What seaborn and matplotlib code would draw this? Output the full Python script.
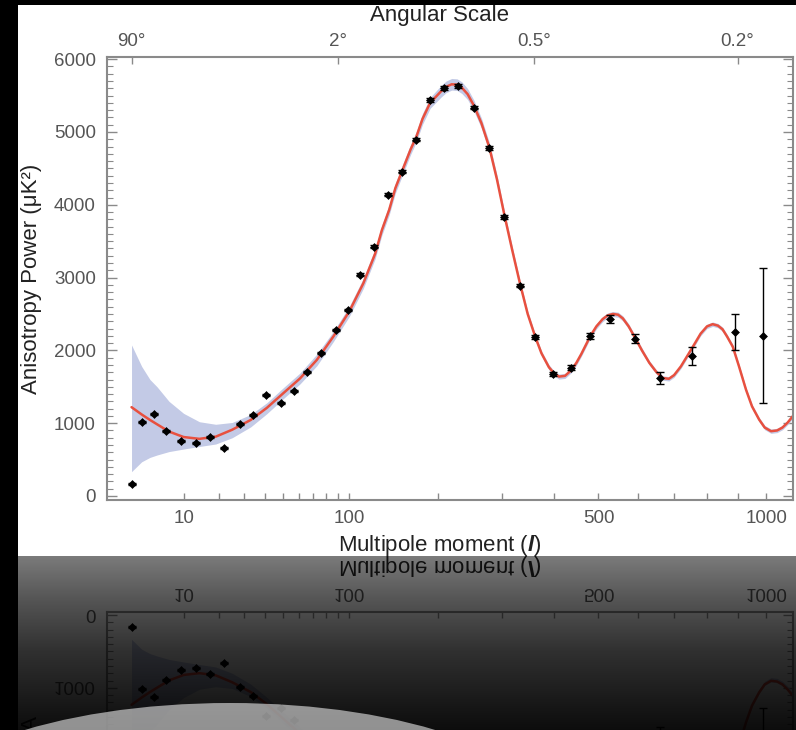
import numpy as np
import matplotlib
matplotlib.use("Agg")
import matplotlib.pyplot as plt
from matplotlib.patches import Rectangle, Ellipse
import seaborn as sns
import pandas as pd

# Binned temperature power spectrum measurements
ell_pts = [2, 3, 4.6, 6.5, 9.5, 13, 17, 22, 28, 34, 40.5, 49, 57, 66, 76, 88, 99,
           110, 124, 139, 155, 172, 190, 209, 230, 254, 279, 305, 333, 363, 399,
           438, 481, 529, 591, 661, 753, 893, 990]
power_pts = [160, 1020, 1130, 893, 756, 732, 811, 664, 985, 1109, 1388, 1278, 1447,
             1700, 1961, 2281, 2556, 3037, 3421, 4136, 4452, 4891, 5441, 5606, 5633,
             5335, 4782, 3829, 2890, 2181, 1676, 1763, 2198, 2432, 2161, 1617, 1924,
             2251, 2203]
power_err = [15, 15, 15, 15, 15, 15, 15, 15, 15, 15, 15, 15, 15, 15, 15, 15, 15,
             20, 20, 20, 20, 20, 25, 25, 25, 25, 25, 25, 25, 25, 25,
             30, 40, 53, 62, 80, 126, 245, 930]

# Best-fit model spectrum and its cosmic-variance envelope
ell_fit = [2, 3, 4, 5, 7, 10, 14, 19, 25, 33, 41, 50, 61, 73, 86, 100,
           113, 125, 132, 140, 147, 155, 165, 172, 180, 190, 205, 212, 220, 228,
           235, 244, 254, 266, 279, 292, 305, 319, 333, 348, 363, 375, 390, 400,
           411, 424, 438, 449, 460, 470, 481, 495, 510, 522, 535, 548, 560, 575,
           591, 610, 630, 650, 668, 685, 700, 720, 740, 760, 780, 800, 818, 835,
           850, 865, 884, 905, 929, 950, 975, 995, 1018, 1040, 1060, 1080, 1100]
power_fit = [1220, 1120, 1045, 985, 885, 810, 785, 815, 910, 1045, 1210, 1405, 1615,
             1870, 2190, 2540,
             2920, 3330, 3650, 3930, 4230, 4470, 4760, 4930, 5180, 5400, 5560, 5620,
             5655, 5650, 5610, 5520, 5360, 5120, 4790, 4350, 3860, 3380, 2930, 2500,
             2180, 1960, 1770, 1690, 1640, 1650, 1730, 1830, 1950, 2070, 2200, 2330,
             2430, 2480, 2500, 2490, 2440, 2330, 2180, 2000, 1830, 1700, 1620, 1610,
             1660, 1780, 1930, 2080, 2230, 2330, 2360, 2340, 2290, 2190, 2050, 1780,
             1460, 1230, 1050, 940, 890, 900, 940, 1010, 1100]
band_lo = [334, 470, 530, 563, 610, 645, 680, 714, 800, 950, 1130, 1330, 1540,
           1790, 2120, 2470,
           2850, 3260, 3580, 3860, 4160, 4400, 4690, 4860, 5105, 5325, 5480, 5540,
           5575, 5570, 5530, 5445, 5285, 5050, 4725, 4290, 3805, 3330, 2885, 2460,
           2145, 1925, 1735, 1655, 1605, 1615, 1695, 1795, 1915, 2035, 2165, 2295,
           2395, 2445, 2465, 2455, 2405, 2295, 2145, 1965, 1800, 1670, 1590, 1580,
           1630, 1750, 1900, 2050, 2200, 2300, 2330, 2310, 2260, 2160, 2020, 1750,
           1430, 1200, 1020, 910, 860, 870, 910, 980, 1070]
band_hi = [2075, 1780, 1600, 1500, 1300, 1135, 1020, 985, 1010, 1120, 1280, 1480,
           1690, 1950, 2260, 2610,
           2990, 3400, 3720, 4000, 4300, 4540, 4830, 5000, 5255, 5475, 5640, 5700,
           5735, 5730, 5690, 5595, 5435, 5190, 4855, 4410, 3915, 3430, 2975, 2540,
           2215, 1995, 1805, 1725, 1675, 1685, 1765, 1865, 1985, 2105, 2235, 2365,
           2465, 2515, 2535, 2525, 2475, 2365, 2215, 2035, 1860, 1730, 1650, 1640,
           1690, 1810, 1960, 2110, 2260, 2360, 2390, 2370, 2320, 2220, 2080, 1810,
           1490, 1260, 1080, 970, 920, 930, 970, 1040, 1130]

# Axis ticks
ell_ticks = [10, 20, 30, 40, 50, 60, 70, 80, 90, 100, 200, 300, 400, 500, 600,
             700, 800, 900, 1000]
ell_labels = ["10", "", "", "", "", "", "", "", "", "100", "", "", "", "500", "",
              "", "", "", "1000"]
power_ticks = [0, 1000, 2000, 3000, 4000, 5000, 6000]
ang_ticks = [2, 90, 360, 900]
ang_labels = ["90°", "2°", "0.5°", "0.2°"]

sns.set_style("ticks")
plt.rcParams["font.family"] = ["Liberation Sans", "DejaVu Sans"]
plt.rcParams["mathtext.fontset"] = "custom"
plt.rcParams["mathtext.it"] = "Liberation Sans:italic:bold"
plt.rcParams["mathtext.rm"] = "Liberation Sans"


def fwd(x):
    return np.power(np.clip(x, 1e-9, None), 0.4)


def inv(x):
    return np.power(np.clip(x, 0, None), 2.5)


W, H = 796, 730
SPINE = "#8a8a8a"
LABEL = "#555555"
TICK_FS = 13.5
LABEL_FS = 16

fig = plt.figure(figsize=(W / 100, H / 100), dpi=100, facecolor="black")
fig.add_artist(Rectangle((18 / W, (H - 556) / H), (W - 18) / W, 551 / H,
                         transform=fig.transFigure, facecolor="white",
                         edgecolor="none", zorder=0))

ax = fig.add_axes([107 / W, (H - 500) / H, (793 - 107) / W, 443 / H])
ax.set_facecolor("white")
ax.set_xscale("function", functions=(fwd, inv))

fit = pd.DataFrame({"ell": ell_fit, "power": power_fit,
                    "lo": band_lo, "hi": band_hi})
pts = pd.DataFrame({"ell": ell_pts, "power": power_pts, "err": power_err})

ax.fill_between(fit["ell"], fit["lo"], fit["hi"], color="#c3cae6",
                linewidth=0, zorder=1)
sns.lineplot(data=fit, x="ell", y="power", ax=ax, color="#e8503f",
             linewidth=1.8, zorder=2, sort=False)
ax.errorbar(pts["ell"], pts["power"], yerr=pts["err"], fmt="none",
            ecolor="black", elinewidth=1.0, capsize=3, capthick=1.0, zorder=3)
sns.scatterplot(data=pts, x="ell", y="power", ax=ax, marker="D", s=16,
                color="black", edgecolor="black", linewidth=0.5, zorder=4)

ax.set_xlim(0.5, 1100)
ax.set_ylim(-55, 6030)
ax.set_xticks(ell_ticks)
ax.set_xticklabels(ell_labels)
ax.xaxis.set_minor_locator(matplotlib.ticker.NullLocator())
ax.set_yticks(power_ticks)
ax.yaxis.set_minor_locator(matplotlib.ticker.MultipleLocator(100))
ax.tick_params(axis="x", which="major", direction="in", length=5, width=1,
               color=SPINE, labelsize=TICK_FS, labelcolor=LABEL, pad=7, top=False)
ax.tick_params(axis="y", which="major", direction="in", length=7, width=1,
               color=SPINE, labelsize=TICK_FS, labelcolor=LABEL, pad=8,
               left=True, right=True)
ax.tick_params(axis="y", which="minor", direction="in", length=4, width=0.8,
               color=SPINE, left=True, right=True)
for s in ax.spines.values():
    s.set_color(SPINE)
    s.set_linewidth(1.5)
ax.set_xlabel("")
ax.set_ylabel("Anisotropy Power (μK²)", fontsize=LABEL_FS, color="#222222")
ax.yaxis.set_label_coords((42 - 107) / (793 - 107), 0.5)

# Angular scale along the top edge
top = ax.twiny()
top.set_xscale("function", functions=(fwd, inv))
top.set_xlim(ax.get_xlim())
top.set_xticks(ang_ticks)
top.set_xticklabels(ang_labels)
top.xaxis.set_minor_locator(matplotlib.ticker.NullLocator())
top.tick_params(axis="x", direction="in", length=5, width=1, color=SPINE,
                labelsize=TICK_FS, labelcolor=LABEL, pad=5, bottom=False)
for s in top.spines.values():
    s.set_visible(False)

fig.text(440 / W, (H - 545) / H, r"Multipole moment ($\it{l}$)", ha="center",
         va="center", fontsize=LABEL_FS, color="#222222")
fig.text(440 / W, (H - 15) / H, "Angular Scale", ha="center", va="center",
         fontsize=LABEL_FS, color="#222222")

# Mirror the lower part of the panel onto the floor below it
fig.canvas.draw()
buf = np.asarray(fig.canvas.buffer_rgba())[..., :3].astype(float) / 255.0
r0 = 556
n = H - r0
src = buf[r0 - n:r0][::-1]
fade = np.interp(np.arange(n), [0, 44, 94, 144, n - 1],
                 [0.48, 0.33, 0.19, 0.10, 0.05])
refl = np.clip(src * fade[:, None, None], 0, 1)

floor = fig.add_axes([0, 0, 1, n / H])
floor.imshow(refl, extent=(0, W, H, r0), origin="upper", aspect="auto",
             interpolation="nearest")
floor.set_xlim(0, W)
floor.set_ylim(H, r0)
floor.add_patch(Ellipse((230, 703 + 120), width=650, height=240,
                        facecolor="white", edgecolor="none", alpha=0.55))
floor.axis("off")

fig.savefig("out.png", dpi=100, facecolor="black")
